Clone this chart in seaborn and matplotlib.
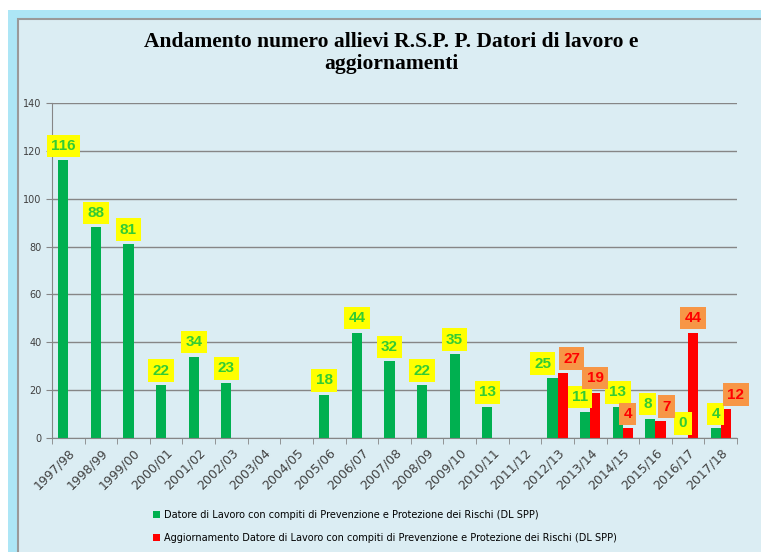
import numpy as np
import pandas as pd
import matplotlib
matplotlib.use("Agg")
import matplotlib.pyplot as plt
from matplotlib.patches import Rectangle
import seaborn as sns

# Dati
anni = ["1997/98", "1998/99", "1999/00", "2000/01", "2001/02", "2002/03",
        "2003/04", "2004/05", "2005/06", "2006/07", "2007/08", "2008/09",
        "2009/10", "2010/11", "2011/12", "2012/13", "2013/14", "2014/15",
        "2015/16", "2016/17", "2017/18"]
dl_spp = [116, 88, 81, 22, 34, 23, np.nan, np.nan, 18, 44, 32, 22,
          35, 13, np.nan, 25, 11, 13, 8, 0, 4]
aggiornamento = [np.nan] * 15 + [27, 19, 4, 7, 44, 12]

serie_1 = "Datore di Lavoro con compiti di Prevenzione e Protezione dei Rischi (DL SPP)"
serie_2 = "Aggiornamento Datore di Lavoro con compiti di Prevenzione e Protezione dei Rischi (DL SPP)"

df = pd.DataFrame({
    "anno": anni * 2,
    "serie": [serie_1] * len(anni) + [serie_2] * len(anni),
    "valore": dl_spp + aggiornamento,
})

sfondo = "#DBEDF3"
colori = {serie_1: "#00B050", serie_2: "#FF0000"}

# spostamenti orizzontali (in pixel) delle etichette spostate a mano nell'originale
sposta_verde = {"2012/13": -10, "2013/14": -5, "2015/16": -3}
sposta_rosso = {"2012/13": 9, "2015/16": 6, "2017/18": 10}

fig = plt.figure(figsize=(7.61, 5.52), dpi=100, facecolor="white")

# cornice azzurra stile Excel
fig.patches.append(Rectangle((8 / 761, 0), 1, 1 - 10 / 552, transform=fig.transFigure,
                             facecolor="#ADE6F6", edgecolor="none", zorder=-3))
fig.patches.append(Rectangle((18 / 761, -0.01), 1, 1 - 19 / 552 + 0.01, transform=fig.transFigure,
                             facecolor=sfondo, edgecolor="#9A9A9A", linewidth=1.5, zorder=-2))

ax = fig.add_axes([52 / 761, 1 - 438 / 552, 685 / 761, 335 / 552])
ax.set_facecolor(sfondo)

sns.barplot(data=df, x="anno", y="valore", hue="serie", hue_order=[serie_1, serie_2],
            order=anni, palette=colori, width=0.62, errorbar=None, saturation=1,
            dodge=True, ax=ax)

# etichette dei valori
stili = [("#FFFF00", "#33CC33", sposta_verde), ("#F79646", "#FF0000", sposta_rosso)]
for container, (box, testo, sposta) in zip(ax.containers, stili):
    for bar in container:
        h = bar.get_height()
        if np.isnan(h):
            continue
        xc = bar.get_x() + bar.get_width() / 2
        anno = anni[int(round(xc))]
        dx = sposta.get(anno, 0) * 0.72
        ax.annotate(f"{int(h)}", (xc, h),
                    xytext=(dx, 5.5), textcoords="offset points", ha="center", va="bottom",
                    fontsize=11, fontweight="bold", color=testo, family="Liberation Sans",
                    bbox=dict(boxstyle="square,pad=0.28", facecolor=box, edgecolor="none"),
                    zorder=5)

ax.set_ylim(0, 140)
ax.set_xlim(-0.5, len(anni) - 0.5)
ax.set_yticks(range(0, 141, 20))
ax.yaxis.grid(True, color="#868686", linewidth=1)
ax.set_axisbelow(True)
ax.set_xlabel("")
ax.set_ylabel("")

for s in ["top", "right"]:
    ax.spines[s].set_visible(False)
for s in ["left", "bottom"]:
    ax.spines[s].set_color("#868686")

ax.tick_params(axis="y", labelsize=7, colors="#868686", labelcolor="#404040", length=4)
ax.set_xticks(range(len(anni)))
ax.set_xticklabels(anni, rotation=45, ha="right", rotation_mode="anchor",
                   fontsize=9, color="#404040")
ax.tick_params(axis="x", which="major", length=0, pad=6)
ax.set_xticks(np.arange(-0.5, len(anni), 1), minor=True)
ax.tick_params(axis="x", which="minor", length=4, colors="#868686")

handles, labels = ax.get_legend_handles_labels()
ax.legend(handles, labels, loc="upper left", bbox_to_anchor=(153 / 761, 1 - 510 / 552),
          bbox_transform=fig.transFigure, frameon=False, fontsize=7,
          handlelength=0.7, handleheight=0.7, handletextpad=0.4, labelspacing=1.3,
          borderaxespad=0, borderpad=0)

fig.text(391 / 761, 1 - 53 / 552, "Andamento numero allievi R.S.P. P. Datori di lavoro e\naggiornamenti",
         ha="center", va="center", fontsize=15.5, fontweight="bold",
         family="Liberation Serif", linespacing=1.15)

fig.savefig("out.png", dpi=100, facecolor=fig.get_facecolor())
